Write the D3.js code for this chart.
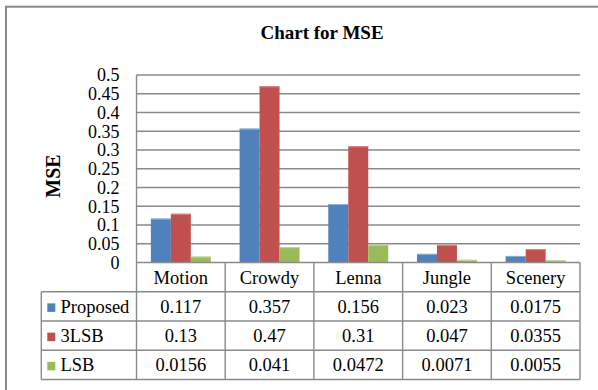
<!DOCTYPE html>
<html>
<head>
<meta charset="utf-8">
<script src="https://cdn.jsdelivr.net/npm/d3@7/dist/d3.min.js"></script>
<style>
  html, body { margin: 0; padding: 0; background: #fff; }
  svg { display: block; }
  text { font-family: "Liberation Serif", "Times New Roman", serif; fill: #000; }
</style>
</head>
<body>
<svg id="chart" width="598" height="390"></svg>
<script>
// Image sets and MSE per method
const categories = ["Motion", "Crowdy", "Lenna", "Jungle", "Scenery"];
const seriesNames = ["Proposed", "3LSB", "LSB"];
const proposed = [0.117, 0.357, 0.156, 0.023, 0.0175];
const lsb3 = [0.13, 0.47, 0.31, 0.047, 0.0355];
const lsb = [0.0156, 0.041, 0.0472, 0.0071, 0.0055];
const seriesColors = ["#4F81BD", "#C0504D", "#9BBB59"];
const seriesHighlights = ["#8FAFD6", "#D98A88", "#C2D69B"];
const yTicks = [0, 0.05, 0.1, 0.15, 0.2, 0.25, 0.3, 0.35, 0.4, 0.45, 0.5];
const yTickLabels = ["0", "0.05", "0.1", "0.15", "0.2", "0.25", "0.3", "0.35", "0.4", "0.45", "0.5"];
const titleText = "Chart for MSE";
const yTitle = "MSE";

const seriesValues = [proposed, lsb3, lsb];

const svg = d3.select("#chart");
const lineColor = "#8a8a8a";
const serif = "'Liberation Serif', 'Times New Roman', serif";

// Chart area frame
svg.append("rect")
  .attr("x", 6).attr("y", 6.7)
  .attr("width", 640).attr("height", 420)
  .attr("fill", "#fff")
  .attr("stroke", "#888").attr("stroke-width", 2);

const plot = { left: 136.5, right: 580, top: 75, bottom: 262.5 };
const rowH = 29.25;

const x0 = d3.scaleBand().domain(categories).range([plot.left, plot.right]).padding(0);
const x1 = d3.scaleBand().domain(seriesNames).range([0, x0.bandwidth()])
  .paddingInner(0).paddingOuter(0.72);
const y = d3.scaleLinear().domain([0, 0.5]).range([plot.bottom, plot.top]);

// Gridlines
svg.append("g").selectAll("line").data(yTicks.filter(d => d > 0)).join("line")
  .attr("x1", plot.left).attr("x2", plot.right)
  .attr("y1", d => y(d)).attr("y2", d => y(d))
  .attr("stroke", lineColor).attr("stroke-width", 1.4);

// Y axis labels
const yAxis = d3.axisLeft(y).tickValues(yTicks)
  .tickFormat((d, i) => yTickLabels[i]).tickSize(0).tickPadding(17);
const gy = svg.append("g").attr("transform", `translate(${plot.left},0)`).call(yAxis);
gy.select(".domain").remove();
gy.selectAll("text")
  .style("font-family", serif)
  .style("font-size", "18px").attr("fill", "#000");

// Bars
const groups = svg.append("g").selectAll("g").data(seriesNames).join("g");
groups.each(function (name, si) {
  const g = d3.select(this);
  const vals = seriesValues[si];
  g.selectAll("rect").data(categories).join("rect")
    .attr("x", (c) => x0(c) + x1(name))
    .attr("y", (c, i) => y(vals[i]))
    .attr("width", x1.bandwidth())
    .attr("height", (c, i) => y(0) - y(vals[i]))
    .attr("fill", seriesColors[si]);
  g.selectAll("line").data(categories).join("line")
    .attr("x1", (c) => x0(c) + x1(name))
    .attr("x2", (c) => x0(c) + x1(name) + x1.bandwidth())
    .attr("y1", (c, i) => y(vals[i]) + 0.5)
    .attr("y2", (c, i) => y(vals[i]) + 0.5)
    .attr("stroke", seriesHighlights[si]).attr("stroke-width", 1);
});

// Y axis line, continuing down as the table's left rule
svg.append("line")
  .attr("x1", plot.left).attr("x2", plot.left)
  .attr("y1", plot.top).attr("y2", plot.bottom + rowH * 4)
  .attr("stroke", lineColor).attr("stroke-width", 1.4);

// Data table
const tableLeft = 41.3;
const table = svg.append("g");
[0, 1, 2, 3, 4].forEach(r => {
  const yy = plot.bottom + r * rowH;
  table.append("line")
    .attr("x1", r === 0 ? plot.left : tableLeft).attr("x2", plot.right)
    .attr("y1", yy).attr("y2", yy)
    .attr("stroke", lineColor).attr("stroke-width", 1.4);
});
categories.forEach(c => {
  const xx = x0(c) + x0.bandwidth();
  table.append("line")
    .attr("x1", xx).attr("x2", xx)
    .attr("y1", plot.bottom).attr("y2", plot.bottom + rowH * 4)
    .attr("stroke", lineColor).attr("stroke-width", 1.4);
});
table.append("line")
  .attr("x1", tableLeft).attr("x2", tableLeft)
  .attr("y1", plot.bottom + rowH).attr("y2", plot.bottom + rowH * 4)
  .attr("stroke", lineColor).attr("stroke-width", 1.4);

// header: category names
table.selectAll("text.cat").data(categories).join("text")
  .attr("class", "cat")
  .attr("x", c => x0(c) + x0.bandwidth() / 2)
  .attr("y", plot.bottom + rowH / 2 + 6.5)
  .attr("text-anchor", "middle")
  .style("font-family", serif)
  .style("font-size", "18.5px")
  .text(c => c);

// rows: legend key, series name, values
seriesNames.forEach((name, si) => {
  const cy = plot.bottom + rowH * (si + 1) + rowH / 2;
  table.append("rect")
    .attr("x", 47.3).attr("y", cy - 3)
    .attr("width", 8).attr("height", 8.5)
    .attr("fill", seriesColors[si]);
  table.append("text")
    .attr("x", 60.5).attr("y", cy + 6.5)
    .style("font-family", serif)
    .style("font-size", "18.5px")
    .text(name);
  table.selectAll(null).data(categories).join("text")
    .attr("x", c => x0(c) + x0.bandwidth() / 2)
    .attr("y", cy + 6.5)
    .attr("text-anchor", "middle")
    .style("font-family", serif)
    .style("font-size", "18.5px")
    .text((c, i) => String(seriesValues[si][i]));
});

// Titles
svg.append("text")
  .attr("x", 322).attr("y", 39.3)
  .attr("text-anchor", "middle")
  .style("font-family", serif)
  .style("font-size", "19px").style("font-weight", "bold")
  .text(titleText);

svg.append("text")
  .attr("transform", "translate(60,176) rotate(-90)")
  .attr("text-anchor", "middle")
  .style("font-family", serif)
  .style("font-size", "20px").style("font-weight", "bold")
  .text(yTitle);
</script>
</body>
</html>
